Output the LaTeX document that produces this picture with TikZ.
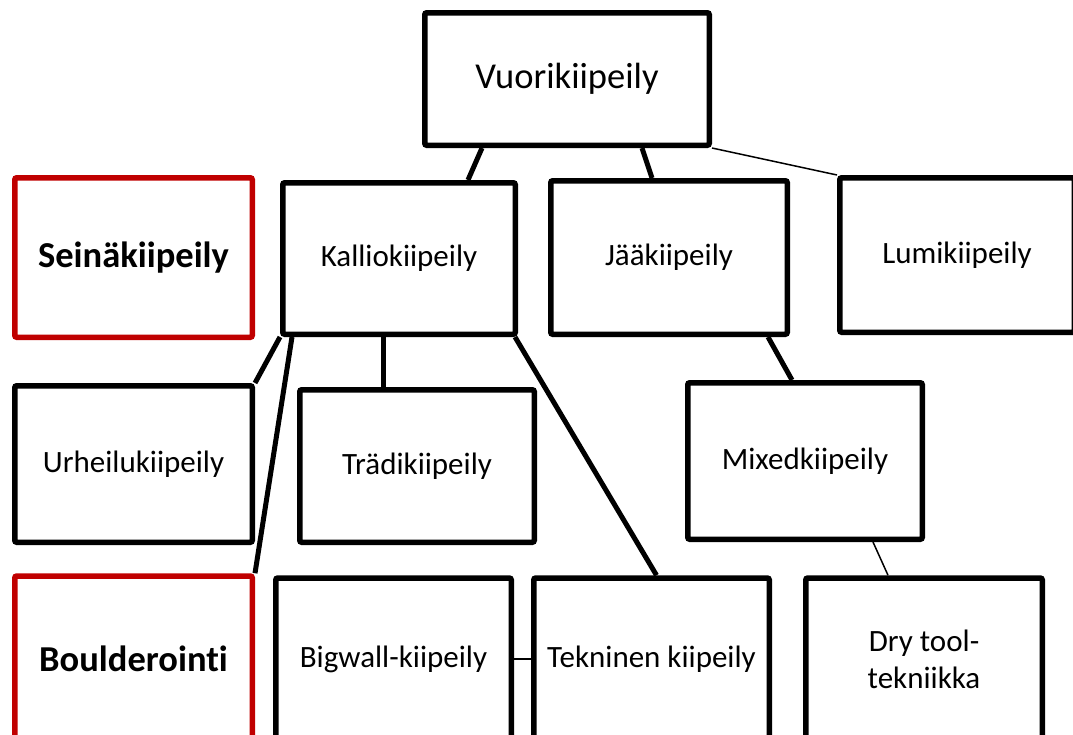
\documentclass[tikz,border=0pt]{standalone}
\usepackage{fontspec}
\setmainfont[Ligatures=NoCommon]{Carlito}
\definecolor{darkred}{HTML}{C00000}
\begin{document}
\begin{tikzpicture}[x=1pt, y=-1pt,
		box/.style = {shape=rectangle, draw, line width=5.5pt, rounded corners=2pt,
			align=center, inner sep=0pt, font=\fontsize{31}{37}\selectfont},
		bigbox/.style = {box, font=\fontsize{36.5}{44}\selectfont},
		redbox/.style = {box, draw=darkred, font=\bfseries\fontsize{36.5}{44}\selectfont},
		link/.style = {line width=5pt},
		thinlink/.style = {line width=1.5pt}]
	\useasboundingbox (0,0) rectangle (1073,734);
	\clip (0,0) rectangle (1073,734);
	\node[bigbox, minimum width=284.5pt, minimum height=132.5pt] (vuori) at (567,79) {Vuorikiipeily};
	\node[redbox, minimum width=237.5pt, minimum height=159.5pt] (seina) at (133.5,257.5) {Seinäkiipeily};
	\node[box, minimum width=232.5pt, minimum height=151.5pt] (kallio) at (399,258.5) {Kalliokiipeily};
	\node[box, minimum width=236.5pt, minimum height=153.5pt] (jaa) at (669,257.5) {Jääkiipeily};
	\node[box, minimum width=234.5pt, minimum height=154.5pt] (lumi) at (957,255) {Lumikiipeily};
	\node[box, minimum width=237.5pt, minimum height=156.5pt] (urheilu) at (133.5,464) {Urheilukiipeily};
	\node[box, minimum width=234.5pt, minimum height=152.5pt] (tradi) at (417,466) {Trädikiipeily};
	\node[box, minimum width=234.5pt, minimum height=156.5pt] (mixed) at (805,461) {Mixedkiipeily};
	\node[redbox, minimum width=237.5pt, minimum height=166pt] (boulder) at (133.5,659) {Boulderointi};
	\node[box, minimum width=235.5pt, minimum height=162pt] (bigwall) at (393.5,659) {Bigwall-kiipeily};
	\node[box, minimum width=235.5pt, minimum height=162pt] (tekninen) at (651.5,659) {Tekninen kiipeily};
	\node[box, minimum width=236.5pt, minimum height=162pt] (dry) at (924,659) {Dry tool-\\tekniikka};
	\draw[link] ([xshift=-85]vuori.south) -- ([xshift=69]kallio.north);
	\draw[link] ([xshift=75]vuori.south) -- ([xshift=-17]jaa.north);
	\draw[thinlink] (vuori.south east) -- (lumi.north west);
	\draw[link] (kallio.south west) -- (urheilu.north east);
	\draw[link] ([xshift=12]kallio.south west) -- (boulder.north east);
	\draw[link] ([xshift=-16]kallio.south) -- ([xshift=-34]tradi.north);
	\draw[link] ([xshift=-3]kallio.south east) -- ([xshift=5]tekninen.north);
	\draw[link] ([xshift=-22]jaa.south east) -- ([xshift=-13]mixed.north);
	\draw[thinlink] ([xshift=68]mixed.south) -- ([xshift=-36]dry.north);
	\draw[thinlink] (bigwall.east) -- ([xshift=4]tekninen.west);
\end{tikzpicture}
\end{document}
